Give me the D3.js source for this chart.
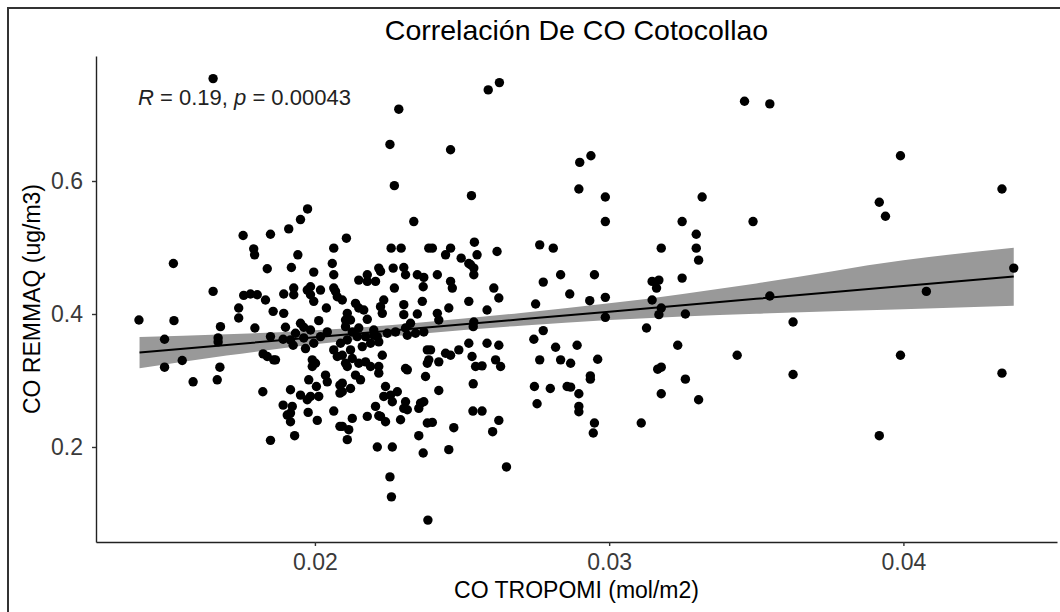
<!DOCTYPE html>
<html>
<head>
<meta charset="utf-8">
<script src="https://cdn.jsdelivr.net/npm/d3@7"></script>
<style>
  body { margin: 0; background: #fff; }
  svg { display: block; font-family: "Liberation Sans", Arial, sans-serif; }
</style>
</head>
<body>
<div id="app"></div>
<script>
/////////DATA///////////

const coTropomi = [
  0.01654, 0.01756, 0.01792, 0.01795, 0.01849, 0.01911, 0.01951, 0.01975, 0.01942, 0.02064,
  0.01519, 0.01838, 0.01920, 0.01996, 0.02064, 0.02059, 0.01654, 0.01758, 0.01781, 0.01804,
  0.01832, 0.01894, 0.01928, 0.01928, 0.01974, 0.01985, 0.01996, 0.02019, 0.02070, 0.02076,
  0.01741, 0.01741, 0.01858, 0.01894, 0.02039, 0.01402, 0.01521, 0.01679, 0.01796, 0.01900,
  0.01951, 0.01962, 0.02013, 0.01985, 0.01489, 0.01671, 0.01671, 0.01892, 0.01926, 0.01962,
  0.01968, 0.02064, 0.02076, 0.01824, 0.01838, 0.01866, 0.01991, 0.02002, 0.01991, 0.01549,
  0.01489, 0.01677, 0.01586, 0.01668, 0.01979, 0.02036, 0.02042, 0.02005, 0.02085, 0.02085,
  0.01823, 0.01917, 0.01951, 0.01974, 0.01985, 0.02013, 0.01892, 0.01923, 0.01917, 0.01917,
  0.01977, 0.02064, 0.02008, 0.02085, 0.01849, 0.01931, 0.02270, 0.02336, 0.02107, 0.02259,
  0.02293, 0.02387, 0.02266, 0.02302, 0.02308, 0.02217, 0.02223, 0.02348, 0.02370, 0.02178,
  0.02149, 0.02178, 0.02206, 0.02368, 0.02270, 0.01985, 0.02064, 0.02093, 0.02138, 0.02149,
  0.02166, 0.02234, 0.02223, 0.02229, 0.02302, 0.02302, 0.02365, 0.02348, 0.02110, 0.02104,
  0.02121, 0.02178, 0.02042, 0.02104, 0.02127, 0.02149, 0.02172, 0.02200, 0.02246, 0.02274,
  0.02308, 0.02325, 0.02342, 0.02370, 0.01849, 0.01917, 0.01934, 0.01996, 0.02019, 0.02087,
  0.02110, 0.02121, 0.02144, 0.02161, 0.02189, 0.02212, 0.02314, 0.02382, 0.02387, 0.01860,
  0.02093, 0.02104, 0.02110, 0.02127, 0.02149, 0.02172, 0.02189, 0.02217, 0.02229, 0.02217,
  0.02138, 0.02155, 0.02308, 0.02376, 0.02382, 0.02093, 0.02093, 0.02121, 0.02240, 0.02234,
  0.02257, 0.02280, 0.02308, 0.02302, 0.02314, 0.02370, 0.02353, 0.01906, 0.02127, 0.02093,
  0.02115, 0.02110, 0.02178, 0.02206, 0.02223, 0.02240, 0.02291, 0.02382, 0.02212, 0.02263,
  0.02353, 0.02368, 0.02255, 0.02416, 0.02461, 0.02467, 0.02523, 0.02540, 0.02540, 0.02551,
  0.02619, 0.02608, 0.02625, 0.02776, 0.02835, 0.02866, 0.02750, 0.02585, 0.02523, 0.02455,
  0.02416, 0.02421, 0.02540, 0.02538, 0.02200, 0.02217, 0.02776, 0.02744, 0.02523, 0.02585,
  0.02625, 0.02393, 0.02421, 0.02444, 0.02461, 0.02489, 0.02534, 0.02546, 0.02568, 0.02614,
  0.02631, 0.02818, 0.02764, 0.02835, 0.02869, 0.02891, 0.02314, 0.02421, 0.02538, 0.02746,
  0.02800, 0.02857, 0.02897, 0.02755, 0.02897, 0.02897, 0.02263, 0.02217, 0.02359, 0.02399,
  0.02472, 0.02537, 0.02568, 0.02625, 0.02604, 0.02455, 0.02651, 0.02260, 0.02384, 0.02532,
  0.02897, 0.02399, 0.02461, 0.02444, 0.02497, 0.02542, 0.02529, 0.02764, 0.02810, 0.02285,
  0.02589, 0.02627, 0.02255, 0.02461, 0.02900, 0.03460, 0.03546, 0.02938, 0.03990, 0.02987,
  0.03316, 0.04335, 0.03918, 0.03939, 0.02987, 0.03248, 0.03489, 0.03296, 0.03296, 0.03304,
  0.03177, 0.02950, 0.03248, 0.03146, 0.03169, 0.03161, 0.02934, 0.02987, 0.03146, 0.03177,
  0.03169, 0.03546, 0.03259, 0.02987, 0.04375, 0.04078, 0.03127, 0.03625, 0.03233, 0.03435,
  0.03990, 0.02961, 0.02936, 0.02936, 0.03165, 0.03177, 0.03625, 0.03259, 0.04335, 0.02869,
  0.03177, 0.03304, 0.02950, 0.02946, 0.03109, 0.03918
];

const coRemmaq = [
  0.754, 0.518, 0.498, 0.489, 0.520, 0.528, 0.542, 0.558, 0.489, 0.499,
  0.476, 0.468, 0.470, 0.463, 0.459, 0.476, 0.434, 0.428, 0.430, 0.429,
  0.421, 0.430, 0.439, 0.429, 0.436, 0.429, 0.419, 0.436, 0.434, 0.426,
  0.409, 0.394, 0.404, 0.401, 0.409, 0.391, 0.390, 0.381, 0.379, 0.380,
  0.386, 0.380, 0.390, 0.376, 0.362, 0.364, 0.358, 0.362, 0.353, 0.364,
  0.348, 0.346, 0.336, 0.340, 0.336, 0.331, 0.331, 0.326, 0.321, 0.330,
  0.320, 0.320, 0.298, 0.301, 0.301, 0.308, 0.298, 0.291, 0.293, 0.281,
  0.283, 0.286, 0.278, 0.271, 0.276, 0.276, 0.263, 0.261, 0.251, 0.238,
  0.252, 0.254, 0.240, 0.231, 0.210, 0.217, 0.593, 0.539, 0.514, 0.499,
  0.499, 0.499, 0.469, 0.470, 0.459, 0.469, 0.464, 0.459, 0.455, 0.459,
  0.451, 0.449, 0.449, 0.441, 0.439, 0.441, 0.439, 0.421, 0.416, 0.409,
  0.406, 0.421, 0.411, 0.401, 0.414, 0.399, 0.419, 0.400, 0.401, 0.391,
  0.391, 0.392, 0.373, 0.381, 0.373, 0.379, 0.366, 0.368, 0.371, 0.373,
  0.379, 0.386, 0.371, 0.373, 0.366, 0.361, 0.371, 0.356, 0.366, 0.356,
  0.361, 0.346, 0.366, 0.351, 0.356, 0.366, 0.368, 0.346, 0.331, 0.331,
  0.338, 0.326, 0.321, 0.333, 0.326, 0.328, 0.321, 0.321, 0.338, 0.311,
  0.308, 0.301, 0.318, 0.306, 0.326, 0.296, 0.283, 0.288, 0.291, 0.276,
  0.278, 0.283, 0.268, 0.258, 0.256, 0.268, 0.258, 0.248, 0.243, 0.231,
  0.226, 0.211, 0.246, 0.261, 0.246, 0.238, 0.241, 0.236, 0.200, 0.200,
  0.217, 0.191, 0.155, 0.459, 0.449, 0.439, 0.476, 0.469, 0.459, 0.489,
  0.494, 0.439, 0.424, 0.448, 0.459, 0.430, 0.415, 0.406, 0.419, 0.409,
  0.401, 0.391, 0.388, 0.381, 0.376, 0.358, 0.375, 0.362, 0.356, 0.356,
  0.353, 0.346, 0.328, 0.341, 0.338, 0.346, 0.336, 0.321, 0.322, 0.331,
  0.321, 0.350, 0.331, 0.331, 0.326, 0.353, 0.316, 0.285, 0.295, 0.291,
  0.288, 0.291, 0.280, 0.265, 0.261, 0.253, 0.268, 0.247, 0.266, 0.237,
  0.229, 0.254, 0.254, 0.240, 0.223, 0.196, 0.170, 0.125, 0.090, 0.578,
  0.588, 0.499, 0.499, 0.489, 0.484, 0.508, 0.474, 0.504, 0.499, 0.708,
  0.737, 0.748, 0.655, 0.647, 0.628, 0.720, 0.716, 0.638, 0.638, 0.576,
  0.576, 0.588, 0.568, 0.547, 0.539, 0.539, 0.539, 0.520, 0.499, 0.481,
  0.499, 0.459, 0.454, 0.449, 0.451, 0.439, 0.420, 0.425, 0.421, 0.409,
  0.399, 0.427, 0.400, 0.395, 0.469, 0.434, 0.379, 0.388, 0.353, 0.338,
  0.338, 0.332, 0.307, 0.302, 0.317, 0.320, 0.309, 0.302, 0.311, 0.290,
  0.280, 0.271, 0.236, 0.221, 0.236, 0.217
];

// smooth line (lm) and its confidence band, read at a few x positions
const fitX = [0.01404, 0.017, 0.020, 0.0235, 0.027, 0.030, 0.035, 0.040, 0.04375];
const fitY = [0.342, 0.3534, 0.365, 0.3785, 0.392, 0.4035, 0.4228, 0.4421, 0.4565];
const bandHigh = [0.3655, 0.3694, 0.3755, 0.387, 0.4015, 0.416, 0.446, 0.481, 0.4995];
const bandLow = [0.3185, 0.3374, 0.3545, 0.370, 0.3825, 0.391, 0.4005, 0.407, 0.4125];

const xTicks = [0.02, 0.03, 0.04];
const yTicks = [0.2, 0.4, 0.6];

/////////SVG///////////

const w = 1060;
const h = 612;

const svg = d3.select('#app')
  .append('svg')
  .attr('width', w)
  .attr('height', h);

// frame of the original screenshot (top and left only)
svg.append('line')
  .attr('x1', 7).attr('x2', w).attr('y1', 8).attr('y2', 8)
  .attr('stroke', '#333').attr('stroke-width', 2);
svg.append('line')
  .attr('x1', 8).attr('x2', 8).attr('y1', 7).attr('y2', h)
  .attr('stroke', '#333').attr('stroke-width', 2);

/////////SCALES///////////

const xScale = d3.scaleLinear()
  .domain([0.01256, 0.04522])
  .range([96, 1057]);

const yScale = d3.scaleLinear()
  .domain([0.0571, 0.788])
  .range([542, 56]);

/////////BAND & POINTS///////////

const bandData = fitX.map((x, i) => ({ x: x, lo: bandLow[i], hi: bandHigh[i] }));

svg.append('path')
  .datum(bandData)
  .attr('fill', '#999999')
  .attr('d', d3.area()
    .curve(d3.curveMonotoneX)
    .x((d) => xScale(d.x))
    .y0((d) => yScale(d.lo))
    .y1((d) => yScale(d.hi)));

svg.append('g')
  .selectAll('circle')
  .data(coTropomi)
  .enter()
  .append('circle')
  .attr('cx', (d) => xScale(d))
  .attr('cy', (d, i) => yScale(coRemmaq[i]))
  .attr('r', 4.7)
  .attr('fill', '#000');

svg.append('path')
  .datum(fitX.map((x, i) => [x, fitY[i]]))
  .attr('fill', 'none')
  .attr('stroke', '#000')
  .attr('stroke-width', 2)
  .attr('d', d3.line()
    .x((d) => xScale(d[0]))
    .y((d) => yScale(d[1])));

/////////AXES///////////

const xAxis = d3.axisBottom(xScale)
  .tickValues(xTicks)
  .tickFormat(d3.format('.2f'))
  .tickSize(4)
  .tickSizeOuter(0)
  .tickPadding(8);

const yAxis = d3.axisLeft(yScale)
  .tickValues(yTicks)
  .tickFormat(d3.format('.1f'))
  .tickSize(4)
  .tickSizeOuter(0)
  .tickPadding(9);

const gx = svg.append('g')
  .attr('transform', 'translate(0,542)')
  .call(xAxis);

const gy = svg.append('g')
  .attr('transform', 'translate(96,0)')
  .call(yAxis);

[gx, gy].forEach((g) => {
  g.select('.domain').attr('stroke', '#222').attr('stroke-width', 1.4);
  g.selectAll('.tick line').attr('stroke', '#333').attr('stroke-width', 1.4);
  g.selectAll('.tick text')
    .attr('fill', '#3a3a3a')
    .style('font-size', '23px')
    .style('font-family', '"Liberation Sans", Arial, sans-serif');
});

/////////TEXT///////////

svg.append('text')
  .attr('x', 576.5)
  .attr('y', 40)
  .attr('text-anchor', 'middle')
  .style('font-size', '28.5px')
  .attr('fill', '#000')
  .text('Correlación De CO Cotocollao');

svg.append('text')
  .attr('x', 576.5)
  .attr('y', 598)
  .attr('text-anchor', 'middle')
  .style('font-size', '23px')
  .attr('fill', '#000')
  .text('CO TROPOMI (mol/m2)');

svg.append('text')
  .attr('transform', 'rotate(-90)')
  .attr('x', -299)
  .attr('y', 40)
  .attr('text-anchor', 'middle')
  .style('font-size', '23px')
  .attr('fill', '#000')
  .text('CO REMMAQ (ug/m3)');

const note = svg.append('text')
  .attr('x', 138)
  .attr('y', 105)
  .style('font-size', '22px')
  .attr('fill', '#222');
note.append('tspan').style('font-style', 'italic').text('R');
note.append('tspan').text(' = 0.19, ');
note.append('tspan').style('font-style', 'italic').text('p');
note.append('tspan').text(' = 0.00043');
</script>
</body>
</html>
